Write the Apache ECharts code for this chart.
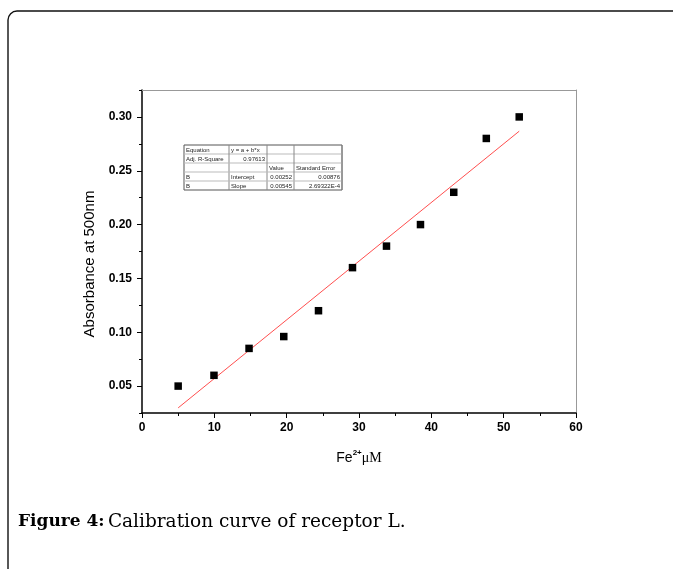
<!DOCTYPE html>
<html>
<head>
<meta charset="utf-8">
<title>Calibration curve of receptor L</title>
<script src="https://cdn.jsdelivr.net/npm/echarts@6/dist/echarts.min.js"></script>
<style>
  html, body { margin: 0; padding: 0; background: #fff; }
  #main { width: 673px; height: 569px; }
</style>
</head>
<body>
<div id="main"></div>
<script>
// measured points
var concFe = [5.0, 9.95, 14.8, 19.6, 24.4, 29.1, 33.8, 38.5, 43.1, 47.6, 52.15];
var absorb = [0.05, 0.06, 0.085, 0.096, 0.12, 0.16, 0.18, 0.20, 0.23, 0.28, 0.30];
// linear fit y = a + b*x
var fitIntercept = 0.00252;
var fitSlope = 0.00545;
var fitRange = [5.0, 52.15];
// axis ticks
var xTicks = [0, 10, 20, 30, 40, 50, 60];
var yTicks = [0.05, 0.10, 0.15, 0.20, 0.25, 0.30];
var yMinorTicks = [0.025, 0.075, 0.125, 0.175, 0.225, 0.275, 0.325];
// fit result table
var tableRows = [
    ['Equation', 'y = a + b*x', '', ''],
    ['Adj. R-Square', '0.97613', '', ''],
    ['', '', 'Value', 'Standard Error'],
    ['B', 'Intercept', '0.00252', '0.00876'],
    ['B', 'Slope', '0.00545', '2.69322E-4']
];

var chart = echarts.init(document.getElementById('main'));

var scatterData = concFe.map(function (x, i) { return [x, absorb[i]]; });
var fitData = fitRange.map(function (x) { return [x, fitIntercept + fitSlope * x]; });

// table drawn as graphic
function buildTable() {
    var cols = [184, 229, 267, 294, 342];
    var rows = [145, 154, 163, 172, 181, 190];
    var els = [];
    var i, j;
    els.push({ type: 'rect', shape: { x: cols[0], y: rows[0], width: cols[4] - cols[0], height: rows[5] - rows[0] },
        style: { fill: '#fff', stroke: '#555', lineWidth: 1 } });
    for (i = 1; i < 5; i++) {
        els.push({ type: 'line', shape: { x1: cols[0], y1: rows[i], x2: cols[4], y2: rows[i] }, style: { stroke: '#bbb', lineWidth: 1 } });
        els.push({ type: 'line', shape: { x1: cols[i], y1: rows[0], x2: cols[i], y2: rows[5] }, style: { stroke: '#888', lineWidth: 1 } });
    }
    for (i = 0; i < tableRows.length; i++) {
        for (j = 0; j < 4; j++) {
            var t = tableRows[i][j];
            if (!t) continue;
            var right = (i === 1 && j === 1) || (i >= 3 && j >= 2);
            els.push({
                type: 'text',
                style: {
                    text: t,
                    x: right ? cols[j + 1] - 2 : cols[j] + 2,
                    y: (rows[i] + rows[i + 1]) / 2 + 0.5,
                    align: right ? 'right' : 'left',
                    verticalAlign: 'middle',
                    fontSize: 6,
                    fontFamily: 'Liberation Sans, Arial',
                    fill: '#222'
                }
            });
        }
    }
    return els;
}

var option = {
    backgroundColor: '#fff',
    animation: false,
    grid: { left: 142, top: 90, right: 97, bottom: 156 },
    xAxis: [{
        type: 'value',
        min: 0, max: 60, interval: 10,
        position: 'bottom',
        name: '{b|Fe}{s|2+}{m|μM}',
        nameLocation: 'middle',
        nameGap: 36,
        nameTextStyle: {
            rich: {
                b: { fontSize: 14, fontFamily: 'Liberation Sans, Arial', color: '#000', verticalAlign: 'bottom' },
                s: { fontSize: 8, fontWeight: 'bold', fontFamily: 'Liberation Sans, Arial', color: '#000', verticalAlign: 'top', padding: [0, 0, 8, 0] },
                m: { fontSize: 14, fontFamily: 'Liberation Serif, Times New Roman', color: '#000', verticalAlign: 'bottom' }
            }
        },
        axisLine: { onZero: false, lineStyle: { color: '#000', width: 1.5 } },
        axisTick: { length: 5, lineStyle: { color: '#000', width: 1 } },
        minorTick: { show: true, splitNumber: 2, length: 3, lineStyle: { color: '#000', width: 1 } },
        axisLabel: {
            customValues: xTicks,
            margin: 9, fontSize: 12, fontWeight: 'bold', color: '#000', fontFamily: 'Liberation Sans, Arial'
        },
        splitLine: { show: false }
    }, {
        type: 'value',
        min: 0, max: 60,
        position: 'top',
        axisLine: { onZero: false, lineStyle: { color: '#999', width: 1 } },
        axisTick: { show: false },
        axisLabel: { show: false },
        splitLine: { show: false }
    }],
    yAxis: [{
        type: 'value',
        min: 0.025, max: 0.325, interval: 0.025,
        position: 'left',
        name: 'Absorbance at 500nm',
        nameLocation: 'middle',
        nameGap: 40,
        nameTextStyle: { fontSize: 15, color: '#000', fontFamily: 'Liberation Sans, Arial', padding: [0, 25, 0, 0] },
        axisLine: { onZero: false, lineStyle: { color: '#000', width: 1.5 } },
        axisTick: { customValues: yTicks, length: 5, lineStyle: { color: '#000', width: 1 } },
        axisLabel: {
            customValues: yTicks,
            formatter: function (v) { return v.toFixed(2); },
            margin: 10, fontSize: 12, fontWeight: 'bold', color: '#000', fontFamily: 'Liberation Sans, Arial'
        },
        splitLine: { show: false }
    }, {
        type: 'value',
        min: 0.025, max: 0.325, interval: 0.025,
        position: 'left',
        axisLine: { show: false },
        axisTick: { customValues: yMinorTicks, length: 3, lineStyle: { color: '#000', width: 1 } },
        axisLabel: { show: false },
        splitLine: { show: false }
    }, {
        type: 'value',
        min: 0.025, max: 0.325,
        position: 'right',
        axisLine: { show: true, onZero: false, lineStyle: { color: '#999', width: 1 } },
        axisTick: { show: false },
        axisLabel: { show: false },
        splitLine: { show: false }
    }],
    series: [{
        type: 'line',
        data: fitData,
        symbol: 'none',
        lineStyle: { color: '#ff3a3a', width: 0.9 },
        z: 2
    }, {
        type: 'scatter',
        data: scatterData,
        symbol: 'rect',
        symbolSize: 7.5,
        itemStyle: { color: '#000', opacity: 1 },
        z: 3
    }],
    graphic: [{
        type: 'rect',
        shape: { x: 8, y: 11, width: 720, height: 620, r: 9 },
        style: { fill: 'none', stroke: '#111', lineWidth: 1.4 },
        silent: true
    }, {
        type: 'group',
        children: buildTable(),
        z: 10
    }, {
        type: 'text',
        style: {
            text: '{b|Figure 4:} {n|Calibration curve of receptor L.}',
            x: 18, y: 522,
            verticalAlign: 'middle',
            rich: {
                b: { fontSize: 17, fontWeight: 'bold', fontFamily: 'DejaVu Serif', fill: '#000' },
                n: { fontSize: 18.5, fontFamily: 'DejaVu Serif', fill: '#000' }
            }
        }
    }]
};

chart.setOption(option);
</script>
</body>
</html>
